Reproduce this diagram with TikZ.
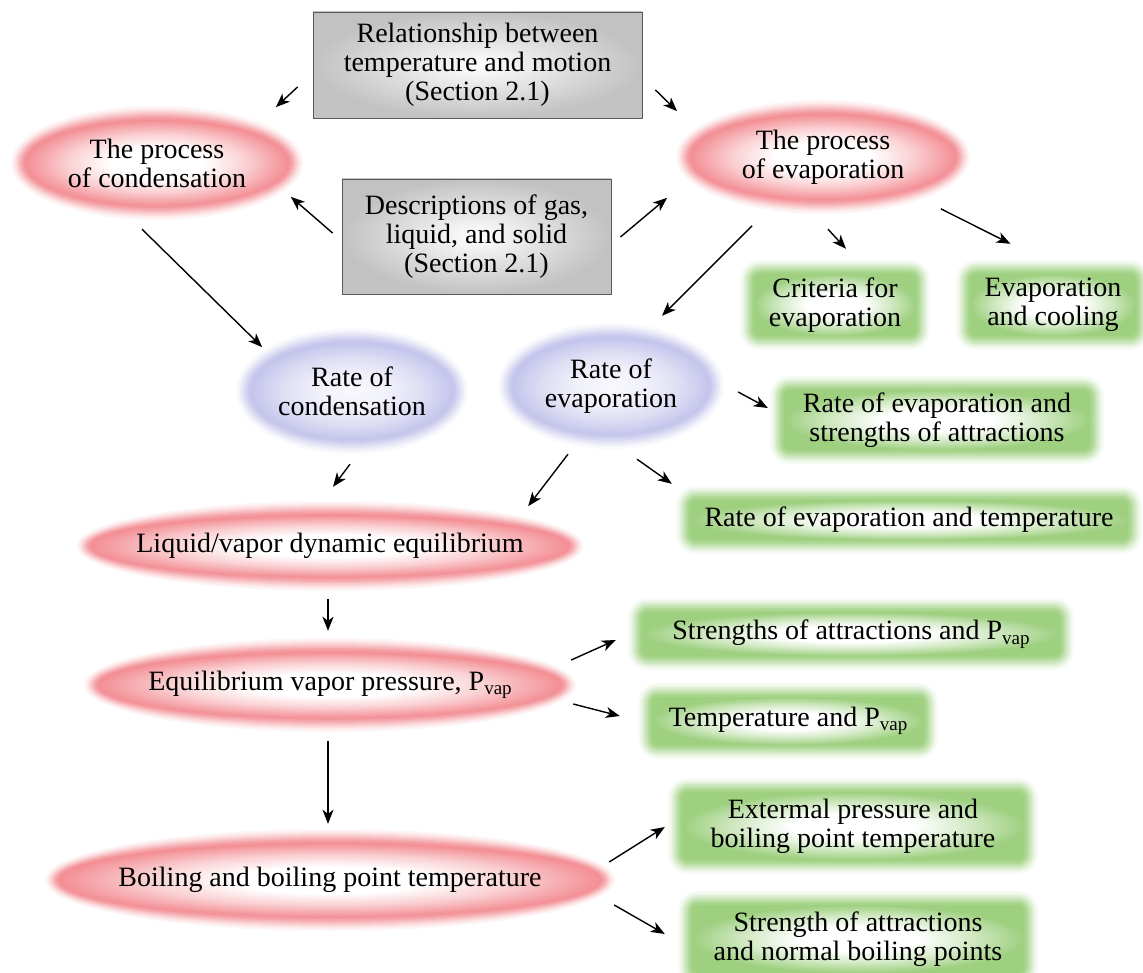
\documentclass[tikz,border=0pt]{standalone}
\usepackage{fontspec}
\setmainfont{Liberation Serif}
\usetikzlibrary{arrows.meta,shapes.geometric}
\definecolor{pinkc}{RGB}{243,142,148}
\definecolor{lavc}{RGB}{196,196,236}
\definecolor{greenc}{RGB}{158,208,128}
\pgfdeclareradialshading{pinkctr}{\pgfpointorigin}{color(0bp)=(white); color(9bp)=(white); color(17bp)=(pinkc!42!white); color(25bp)=(pinkc); color(50bp)=(pinkc)}
\pgfdeclareradialshading{lavctr}{\pgfpointorigin}{color(0bp)=(lavc!12!white); color(9bp)=(lavc!25!white); color(17bp)=(lavc!55!white); color(25bp)=(lavc); color(50bp)=(lavc)}
\pgfdeclareradialshading{greenctr}{\pgfpointorigin}{color(0bp)=(white); color(9bp)=(white); color(17bp)=(greenc!45!white); color(25bp)=(greenc); color(50bp)=(greenc)}
\newcommand\vapsub{\raisebox{-0.35ex}{\fontsize{19}{19}\selectfont vap}}
% name, x, y, W, H, colour, shading, text
\newcommand\blurell[8]{%
  \foreach \kk/\mm in {0/8,2/18,4/32,6/48,8/64,10/80,12/92}{
    \fill[#6!\mm!white] (#2,#3) ellipse [x radius={#4/2-\kk}, y radius={#5/2-\kk}];
  }
  \shade[shading=#7] (#2,#3) ellipse [x radius={#4/2-14}, y radius={#5/2-14}];
  \node[ellipse, minimum width=#4, minimum height=#5, inner sep=0pt, align=center] (#1) at (#2,#3) {#8};
}
% name, x, y, W, H, text
\newcommand\blurbox[6]{%
  \foreach \kk/\mm in {0/8,2/18,4/32,6/48,8/64,10/80,12/92}{
    \fill[greenc!\mm!white, rounded corners={(20-\kk)*1pt}] (#2-#4/2+\kk, #3-#5/2+\kk) rectangle (#2+#4/2-\kk, #3+#5/2-\kk);
  }
  \shade[shading=greenctr, rounded corners=7pt] (#2-#4/2+14, #3-#5/2+14) rectangle (#2+#4/2-14, #3+#5/2-14);
  \node[rectangle, minimum width=#4, minimum height=#5, inner sep=0pt, align=center] (#1) at (#2,#3) {#6};
}
\begin{document}
\begin{tikzpicture}[x=1pt, y=-1pt,
  every node/.append style={font=\fontsize{28}{29}\selectfont},
  graybox/.style={rectangle, draw=black!65, line width=0.9pt, inner color=white, outer color=black!24, align=center, inner sep=0pt},
  arr/.style={-{Stealth[length=14pt,width=11pt,inset=4pt]}, line width=1.4pt}]
\useasboundingbox (0,0) rectangle (1143,973);
\fill[white] (0,0) rectangle (1143,973);

% gray boxes
\node[graybox, minimum width=329, minimum height=106] (rel) at (477.5,65) {Relationship between\\temperature and motion\\(Section 2.1)};
\node[graybox, minimum width=269, minimum height=115] (desc) at (476.5,236.5) {Descriptions of gas,\\liquid, and solid\\(Section 2.1)};

% ellipses
\blurell{cond}{157}{163}{292}{114}{pinkc}{pinkctr}{The process\\of condensation}
\blurell{evap}{823}{157}{294}{114}{pinkc}{pinkctr}{The process\\of evaporation}
\blurell{rcond}{352}{391}{232}{126}{lavc}{lavctr}{Rate of\\condensation}
\blurell{revap}{611}{386}{226}{126}{lavc}{lavctr}{Rate of\\evaporation}
\blurell{lve}{330}{546}{507}{90}{pinkc}{pinkctr}{\makebox[0pt]{Liquid/vapor dynamic equilibrium}}
\blurell{evp}{330}{685}{492}{94}{pinkc}{pinkctr}{\makebox[0pt]{Equilibrium vapor pressure, P\vapsub}}
\blurell{boil}{330}{880}{570}{102}{pinkc}{pinkctr}{\makebox[0pt]{Boiling and boiling point temperature}}

% green boxes
\blurbox{crit}{835}{305}{190}{90}{Criteria for\\evaporation}
\blurbox{cool}{1053}{305}{194}{90}{Evaporation\\and cooling}
\blurbox{rstr}{937}{420}{334}{88}{Rate of evaporation and\\strengths of attractions}
\blurbox{rtemp}{909}{520}{466}{68}{Rate of evaporation and temperature}
\blurbox{spv}{851}{634}{446}{72}{Strengths of attractions and P\vapsub}
\blurbox{tpv}{788}{721}{300}{76}{Temperature and P\vapsub}
\blurbox{ext}{853}{826}{370}{96}{Extermal pressure and\\boiling point temperature}
\blurbox{sab}{858}{939}{360}{96}{Strength of attractions\\and normal boiling points}

% connectors
\draw[arr] ([shift={(-15,22)}]rel.west) -- ([shift={(15.5,-15.4)}]cond.north east);
\draw[arr] ([shift={(13,25)}]rel.east) -- ([shift={(-41.8,-5.4)}]evap.north west);
\draw[arr] ([shift={(-9,-3.5)}]desc.west) -- ([shift={(30.5,-6.6)}]cond.south east);
\draw[arr] ([shift={(9,0.5)}]desc.east) -- ([shift={(-51.8,0.4)}]evap.south west);
\draw[arr] ([shift={(-15,9)}]cond.south) -- ([shift={(-7.7,0.8)}]rcond.north west);
\draw[arr] ([shift={(33.2,28.4)}]evap.south west) -- ([shift={(51,-7)}]revap.north);
\draw[arr] ([shift={(5,15)}]evap.south) -- ([shift={(11,-11)}]crit.north);
\draw[arr] ([shift={(13.8,11.4)}]evap.south east) -- ([shift={(-42.5,-16)}]cool.north);
\draw[arr] ([shift={(14,6)}]revap.east) -- ([shift={(-2,-12)}]rstr.west);
\draw[arr] ([shift={(26,10)}]revap.south) -- ([shift={(-4,-2)}]rtemp.north west);
\draw[arr] ([shift={(-43,5)}]revap.south) -- ([shift={(18.8,-7.9)}]lve.north east);
\draw[arr] ([shift={(-2,10)}]rcond.south) -- ([shift={(3,-14)}]lve.north);
\draw[arr] ([shift={(-2,8)}]lve.south) -- ([shift={(-2,-7)}]evp.north);
\draw[arr] ([shift={(-5,-25)}]evp.east) -- ([shift={(-12,6)}]spv.west);
\draw[arr] ([shift={(-3,19)}]evp.east) -- ([shift={(-18,-5)}]tpv.west);
\draw[arr] ([shift={(-2,9)}]evp.south) -- ([shift={(-2,-5)}]boil.north);
\draw[arr] ([shift={(-6,-18)}]boil.east) -- ([shift={(-3,1)}]ext.west);
\draw[arr] ([shift={(-1,25)}]boil.east) -- ([shift={(-13,-5)}]sab.west);
\end{tikzpicture}
\end{document}
